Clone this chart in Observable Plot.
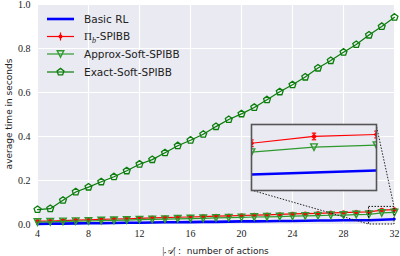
<!DOCTYPE html>
<html><head><meta charset="utf-8">
<script src="https://cdn.jsdelivr.net/npm/d3@7"></script>
<script src="https://cdn.jsdelivr.net/npm/@observablehq/plot@0.6"></script>
<style>body{margin:0;background:#fff}</style>
</head><body><div id="chart"></div>
<script>
// ---- data ----
const actions = [4,5,6,7,8,9,10,11,12,13,14,15,16,17,18,19,20,21,22,23,24,25,26,27,28,29,30,31,32];
const basicRL = [0.003,0.004,0.004,0.005,0.006,0.006,0.007,0.008,0.008,0.009,0.010,0.010,0.011,0.012,0.012,0.013,0.014,0.014,0.015,0.016,0.016,0.017,0.018,0.018,0.019,0.019,0.0194,0.0218,0.0242];
const piB = [0.015,0.016,0.018,0.020,0.021,0.023,0.025,0.026,0.028,0.030,0.031,0.033,0.034,0.036,0.038,0.039,0.041,0.043,0.044,0.046,0.048,0.049,0.051,0.053,0.054,0.056,0.0573,0.0655,0.0679];
const piBErr = [0.003,0.003,0.003,0.003,0.003,0.003,0.003,0.003,0.003,0.003,0.003,0.003,0.003,0.003,0.003,0.003,0.003,0.003,0.003,0.003,0.003,0.003,0.003,0.003,0.003,0.003,0.004,0.004,0.004];
const approxSoft = [0.011,0.012,0.014,0.015,0.016,0.018,0.019,0.020,0.022,0.023,0.024,0.026,0.027,0.028,0.030,0.031,0.032,0.034,0.035,0.036,0.038,0.039,0.040,0.042,0.043,0.045,0.0464,0.0525,0.0549];
const exactSoft = [0.068,0.072,0.110,0.148,0.170,0.194,0.217,0.244,0.274,0.295,0.326,0.358,0.383,0.410,0.445,0.477,0.503,0.532,0.567,0.603,0.635,0.670,0.711,0.745,0.783,0.818,0.861,0.900,0.942];
const xTicks = [4,8,12,16,20,24,28,32];
const yTicks = [0,0.2,0.4,0.6,0.8,1.0];
const zoomX = [30,32];
const zoomY = [0,0.08];
const legendNames = ["Basic RL","Π_b-SPIBB","Approx-Soft-SPIBB","Exact-Soft-SPIBB"];

// ---- styles ----
const BG = "#EAEAF2";
const C_BLUE = "#0000ff", C_RED = "#ff0000", C_APPROX = "#2e9a2e", C_EXACT = "#0a7d0a";
const SANS = "'DejaVu Sans', sans-serif";
const SERIF = "'Liberation Serif', 'DejaVu Serif', serif";

const pentagon = {draw(ctx, size) {
  const r = Math.sqrt(size / Math.PI);
  for (let k = 0; k < 5; k++) {
    const a = -Math.PI / 2 + k * 2 * Math.PI / 5;
    const px = r * Math.cos(a), py = r * Math.sin(a);
    k ? ctx.lineTo(px, py) : ctx.moveTo(px, py);
  }
  ctx.closePath();
}};
const triDown = {draw(ctx, size) {
  const r = Math.sqrt(size / Math.PI);
  ctx.moveTo(0, r); ctx.lineTo(-r, -r); ctx.lineTo(r, -r); ctx.closePath();
}};
const hbar = {draw(ctx, size) {
  const r = Math.sqrt(size / Math.PI);
  ctx.moveTo(-r, 0); ctx.lineTo(r, 0);
}};

const rows = (ys) => actions.map((x, i) => ({x, y: ys[i]}));
const dBasic = rows(basicRL), dPi = actions.map((x, i) => ({x, y: piB[i], lo: piB[i] - piBErr[i], hi: piB[i] + piBErr[i]}));
const dApprox = rows(approxSoft), dExact = rows(exactSoft);

function seriesMarks(opts, big) {
  const clip = opts.clip;
  const inZoom = d => !opts.onlyZoom || (d.x >= zoomX[0]);
  const f = a => a.filter(inZoom);
  return [
    Plot.line(f(dBasic), {x: "x", y: "y", stroke: C_BLUE, strokeWidth: 2.6, clip}),
    Plot.line(f(dPi), {x: "x", y: "y", stroke: C_RED, strokeWidth: 1.2, clip}),
    Plot.ruleX(f(dPi), {x: "x", y1: "lo", y2: "hi", stroke: C_RED, strokeWidth: 1.2, clip}),
    Plot.dot(f(dPi), {x: "x", y: "lo", symbol: hbar, r: 2.2, stroke: C_RED, strokeWidth: 1.2, clip}),
    Plot.dot(f(dPi), {x: "x", y: "hi", symbol: hbar, r: 2.2, stroke: C_RED, strokeWidth: 1.2, clip}),
    Plot.dot(f(dPi), {x: "x", y: "y", r: 2, fill: C_RED, stroke: C_RED, strokeWidth: 0.5, clip}),
    Plot.line(f(dApprox), {x: "x", y: "y", stroke: C_APPROX, strokeWidth: 1.2, clip}),
    Plot.dot(f(dApprox), {x: "x", y: "y", symbol: triDown, r: 3.3, fill: "none", stroke: C_APPROX, strokeWidth: 1.4, clip}),
    ...(big ? [
      Plot.line(dExact, {x: "x", y: "y", stroke: C_EXACT, strokeWidth: 1.2}),
      Plot.dot(dExact, {x: "x", y: "y", symbol: pentagon, r: 3.6, fill: "none", stroke: C_EXACT, strokeWidth: 1.3})
    ] : [])
  ];
}

const main = Plot.plot({
  width: 400, height: 256,
  marginLeft: 37, marginRight: 6, marginTop: 4, marginBottom: 32,
  style: {fontFamily: SERIF, fontSize: "10px", background: "white", overflow: "visible"},
  x: {domain: [4, 32]},
  y: {domain: [0, 1]},
  marks: [
    Plot.frame({fill: BG, stroke: null}),
    Plot.gridX(xTicks, {stroke: "white", strokeOpacity: 1, strokeWidth: 1.1}),
    Plot.gridY(yTicks, {stroke: "white", strokeOpacity: 1, strokeWidth: 1.1}),
    Plot.axisX(xTicks, {tickSize: 0, tickPadding: 5, label: null, tickFormat: d => String(d), fontSize: 10, fill: "#222"}),
    Plot.axisY(yTicks, {tickSize: 0, tickPadding: 7, label: null, tickFormat: d3.format(".1f"), fontSize: 10, fill: "#222"}),
    ...seriesMarks({}, true),
    Plot.rect([{x1: zoomX[0], x2: zoomX[1], y1: zoomY[0], y2: zoomY[1]}], {x1: "x1", x2: "x2", y1: "y1", y2: "y2", fill: "none", stroke: "#111", strokeWidth: 1, strokeDasharray: "1.5,1.5"})
  ]
});

const IX = 251, IY = 124, IW = 125, IH = 66;
const inset = Plot.plot({
  width: IW, height: IH, margin: 0,
  x: {domain: zoomX, axis: null},
  y: {domain: zoomY, axis: null},
  marks: [
    Plot.frame({fill: BG, stroke: null}),
    ...seriesMarks({clip: true, onlyZoom: true}, false),
    Plot.frame({stroke: "#555", strokeWidth: 1.6})
  ]
});

const svg = d3.select(main);
const xs = main.scale("x"), ys = main.scale("y");
// connector lines from inset corners to the zoom rectangle
const conn = [
  [[IX, IY + IH], [xs.apply(zoomX[0]), ys.apply(zoomY[0])]],
  [[IX + IW, IY], [xs.apply(zoomX[1]), ys.apply(zoomY[1])]]
];
svg.append("g").selectAll("line").data(conn).join("line")
  .attr("x1", d => d[0][0]).attr("y1", d => d[0][1])
  .attr("x2", d => d[1][0]).attr("y2", d => d[1][1])
  .attr("stroke", "#222").attr("stroke-width", 1).attr("stroke-dasharray", "1.5,1.5");

// move the inset's content into a translated group of the main svg
const ig = svg.append("g").attr("transform", `translate(${IX},${IY})`).node();
Array.from(inset.childNodes).forEach(n => { if (n.tagName !== "style") ig.appendChild(n); });

// axis labels
svg.append("text").attr("transform", "translate(9,114) rotate(-90)")
  .attr("text-anchor", "middle").attr("dominant-baseline", "middle")
  .attr("font-family", SANS).attr("font-size", 9).attr("fill", "#222")
  .text("average time in seconds");
const xl = svg.append("text").attr("x", 215.5).attr("y", 254)
  .attr("text-anchor", "middle").attr("font-family", SANS).attr("font-size", 9).attr("fill", "#222");
xl.append("tspan").attr("font-family", SERIF).attr("font-size", 10).text("|");
xl.append("tspan").attr("font-family", SERIF).attr("font-style", "italic").attr("font-size", 10).text("𝒜");
xl.append("tspan").attr("font-family", SERIF).attr("font-size", 10).text("|");
xl.append("tspan").text(" :  number of actions");

// legend
const lg = svg.append("g").attr("font-family", SANS).attr("font-size", 10.5).attr("fill", "#222").attr("text-anchor", "start");
const rowsY = [19, 36.5, 54, 72];
const lx1 = 47, lx2 = 74, lxm = 60.5, tx = 84;
const colors = [C_BLUE, C_RED, C_APPROX, C_EXACT];
legendNames.forEach((name, i) => {
  const y = rowsY[i];
  lg.append("line").attr("x1", lx1).attr("x2", lx2).attr("y1", y).attr("y2", y)
    .attr("stroke", colors[i]).attr("stroke-width", i === 0 ? 2.6 : 1.2);
  if (i === 1) {
    lg.append("line").attr("x1", lxm).attr("x2", lxm).attr("y1", y - 4).attr("y2", y + 4).attr("stroke", C_RED).attr("stroke-width", 1.2);
    lg.append("circle").attr("cx", lxm).attr("cy", y).attr("r", 2).attr("fill", C_RED);
  } else if (i === 2) {
    lg.append("path").attr("transform", `translate(${lxm},${y})`).attr("d", "M0,3.3L-3.3,-3.3L3.3,-3.3Z")
      .attr("fill", "none").attr("stroke", C_APPROX).attr("stroke-width", 1.4);
  } else if (i === 3) {
    const p = d3.path(); pentagon.draw(p, Math.PI * 3.6 * 3.6);
    lg.append("path").attr("transform", `translate(${lxm},${y})`).attr("d", p.toString())
      .attr("fill", "none").attr("stroke", C_EXACT).attr("stroke-width", 1.3);
  }
  const t = lg.append("text").attr("x", tx).attr("y", y).attr("dy", "0.36em").attr("text-anchor", "start");
  if (i === 1) {
    t.append("tspan").attr("font-family", SERIF).attr("font-size", 11).text("Π");
    t.append("tspan").attr("font-family", SERIF).attr("font-style", "italic").attr("font-size", 8).attr("dy", 3).text("b");
    t.append("tspan").attr("dy", -3).text("-SPIBB");
  } else {
    t.text(name);
  }
});

document.getElementById("chart").appendChild(main);
</script>
</body></html>
